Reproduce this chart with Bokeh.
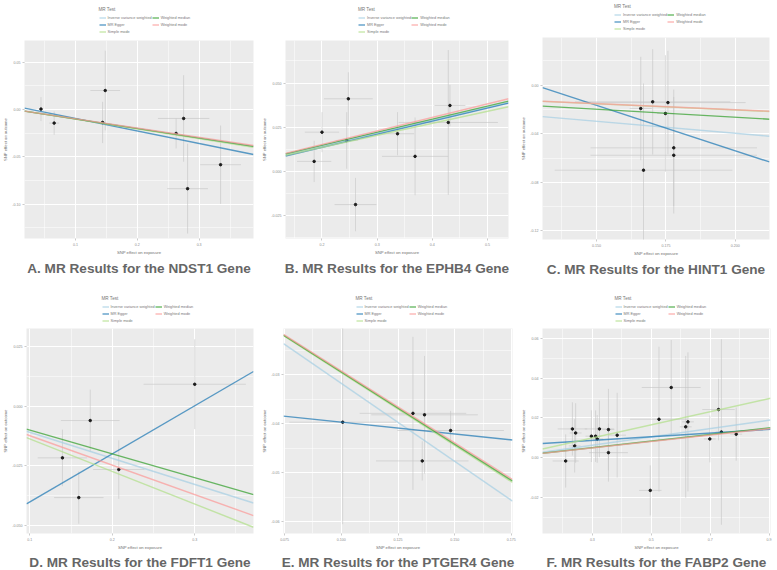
import numpy as np
from bokeh.plotting import figure
from bokeh.layouts import column, row
from bokeh.models import FixedTicker, Legend, LegendItem, Range1d, Title
from bokeh.embed import file_html
from bokeh.resources import INLINE

methods = ["Inverse variance weighted", "MR Egger", "Simple mode", "Weighted median", "Weighted mode"]
method_colors = ["#a6cee3", "#1f78b4", "#b2df8a", "#33a02c", "#fb9a99"]

# ---------------- Panel A : NDST1 ----------------
a_exp = [0.044, 0.0653, 0.148, 0.1437, 0.2627, 0.2749, 0.3347, 0.2813]
a_out = [0.0004, -0.0144, 0.0200, -0.0137, -0.0253, -0.0095, -0.0583, -0.0836]
a_se_exp = [0.003, 0.008, 0.024, 0.004, 0.004, 0.0416, 0.033, 0.033]
a_se_out = [0.0126, 0.0123, 0.042, 0.0218, 0.0158, 0.0457, 0.0414, 0.0474]
a_intercept = [0, 0.0037, 0, 0, 0]
a_slope = [-0.100, -0.132, -0.103, -0.1005, -0.098]
a_xticks = [0.1, 0.2, 0.3]
a_xlabels = ["0.1", "0.2", "0.3"]
a_yticks = [-0.10, -0.05, 0.0, 0.05]
a_ylabels = ["-0.10", "-0.05", "0.00", "0.05"]

# ---------------- Panel B : EPHB4 ----------------
b_exp = [0.1858, 0.2, 0.2478, 0.2448, 0.2608, 0.3369, 0.3687, 0.4319, 0.4289]
b_out = [0.00565, 0.0222, 0.0411, 0.0175, -0.0188, 0.0213, 0.0085, 0.0373, 0.0277]
b_se_exp = [0.031, 0.031, 0.0442, 0.02, 0.038, 0.03, 0.06, 0.028, 0.09]
b_se_out = [0.0117, 0.0113, 0.015, 0.016, 0.0151, 0.0122, 0.022, 0.0117, 0.041]
b_intercept = [0, -0.0012, 0, 0, 0]
b_slope = [0.0725, 0.074, 0.068, 0.0739, 0.0764]
b_xticks = [0.2, 0.3, 0.4, 0.5]
b_xlabels = ["0.2", "0.3", "0.4", "0.5"]
b_yticks = [-0.025, 0.0, 0.025, 0.05]
b_ylabels = ["-0.025", "0.000", "0.025", "0.050"]

# ---------------- Panel C : HINT1 ----------------
c_exp = [0.1659, 0.1702, 0.1757, 0.1748, 0.1778, 0.1778, 0.1669]
c_out = [-0.0192, -0.0137, -0.0143, -0.0233, -0.0516, -0.0577, -0.0700]
c_se_exp = [0.004, 0.028, 0.028, 0.003, 0.030, 0.030, 0.032]
c_se_out = [0.0426, 0.0434, 0.0426, 0.048, 0.048, 0.048, 0.0714]
c_intercept = [0, 0.0958, 0, 0, 0]
c_slope = [-0.198, -0.749, -0.102, -0.132, -0.101]
c_xticks = [0.15, 0.175, 0.2]
c_xlabels = ["0.150", "0.175", "0.200"]
c_yticks = [-0.12, -0.08, -0.04, 0.0]
c_ylabels = ["-0.12", "-0.08", "-0.04", "0.00"]

# ---------------- Panel D : FDFT1 ----------------
d_exp = [0.1396, 0.1733, 0.1594, 0.2079, 0.3]
d_out = [-0.0217, -0.006, -0.0384, -0.0266, 0.00925]
d_se_exp = [0.030, 0.0356, 0.030, 0.031, 0.062]
d_se_out = [0.0119, 0.013, 0.011, 0.0123, 0.0189]
d_intercept = [0, -0.0605, 0, 0, 0]
d_slope = [-0.1095, 0.2023, -0.137, -0.100, -0.1238]
d_xticks = [0.1, 0.2, 0.3]
d_xlabels = ["0.1", "0.2", "0.3"]
d_yticks = [-0.05, -0.025, 0.0, 0.025]
d_ylabels = ["-0.050", "-0.025", "0.000", "0.025"]

# ---------------- Panel E : PTGER4 ----------------
e_exp = [0.1006, 0.1316, 0.1367, 0.1482, 0.1357]
e_out = [-0.0397, -0.0379, -0.0382, -0.0414, -0.0476]
e_se_exp = [0.0235, 0.0235, 0.0235, 0.0235, 0.0204]
e_se_out = [0.0208, 0.0156, 0.012, 0.004, 0.004]
e_intercept = [0, -0.0349, 0, 0, 0]
e_slope = [-0.318, -0.048, -0.2962, -0.2945, -0.2928]
e_xticks = [0.075, 0.1, 0.125, 0.15, 0.175]
e_xlabels = ["0.075", "0.100", "0.125", "0.150", "0.175"]
e_yticks = [-0.06, -0.05, -0.04, -0.03]
e_ylabels = ["-0.06", "-0.05", "-0.04", "-0.03"]

# ---------------- Panel F : FABP2 ----------------
f_exp = [0.2093, 0.2322, 0.2399, 0.2432, 0.2967, 0.3109, 0.3164, 0.324, 0.3546, 0.3546,
         0.3842, 0.4967, 0.5262, 0.5678, 0.617, 0.6246, 0.6989, 0.7284, 0.7383, 0.7885]
f_out = [-0.0017, 0.01445, 0.0059, 0.0124, 0.0108, 0.0108, 0.0094, 0.01445, 0.0141, 0.0025,
         0.0113, -0.0165, 0.0193, 0.0353, 0.0155, 0.018, 0.0094, 0.0242, 0.0129, 0.0118]
f_se_exp = [0.044, 0.05, 0.02, 0.02, 0.02, 0.02, 0.02, 0.05, 0.02, 0.066,
            0.03, 0.038, 0.098, 0.10, 0.02, 0.02, 0.02, 0.055, 0.02, 0.02]
f_se_out = [0.0134, 0.0134, 0.0134, 0.015, 0.013, 0.013, 0.012, 0.0143, 0.0205, 0.0146,
            0.0213, 0.0126, 0.0365, 0.0239, 0.0357, 0.035, 0.0118, 0.0155, 0.0467, 0.0134]
f_intercept = [0, 0.0059, 0, 0, 0]
f_slope = [0.0209, 0.00918, 0.033, 0.0166, 0.0162]
f_xticks = [0.3, 0.5, 0.7, 0.9]
f_xlabels = ["0.3", "0.5", "0.7", "0.9"]
f_yticks = [-0.02, 0.0, 0.02, 0.04, 0.06]
f_ylabels = ["-0.02", "0.00", "0.02", "0.04", "0.06"]

captions = [
    "A. MR Results for the NDST1 Gene",
    "B. MR Results for the EPHB4 Gene",
    "C. MR Results for the HINT1 Gene",
    "D. MR Results for the FDFT1 Gene",
    "E. MR Results for the PTGER4 Gene",
    "F. MR Results for the FABP2 Gene",
]

# layout config: (x_range, y_range, borders L, R, T, B)
layout_cfg = [
    ((0.0173, 0.388), (-0.1362, 0.0728), (20, 6, 40, 47)),
    ((0.1339, 0.538), (-0.038, 0.0741), (21, 10, 40, 47)),
    ((0.1305, 0.2123), (-0.1271, 0.0393), (17, 8, 37, 46)),
    ((0.096, 0.3713), (-0.0535, 0.0327), (22, 6, 43, 37)),
    ((0.0745, 0.1755), (-0.0624, -0.0206), (16, 6, 43, 37)),
    ((0.1306, 0.905), (-0.0382, 0.065), (17, 7, 43, 37)),
]

panels_data = [
    (a_exp, a_out, a_se_exp, a_se_out, a_intercept, a_slope, a_xticks, a_xlabels, a_yticks, a_ylabels),
    (b_exp, b_out, b_se_exp, b_se_out, b_intercept, b_slope, b_xticks, b_xlabels, b_yticks, b_ylabels),
    (c_exp, c_out, c_se_exp, c_se_out, c_intercept, c_slope, c_xticks, c_xlabels, c_yticks, c_ylabels),
    (d_exp, d_out, d_se_exp, d_se_out, d_intercept, d_slope, d_xticks, d_xlabels, d_yticks, d_ylabels),
    (e_exp, e_out, e_se_exp, e_se_out, e_intercept, e_slope, e_xticks, e_xlabels, e_yticks, e_ylabels),
    (f_exp, f_out, f_se_exp, f_se_out, f_intercept, f_slope, f_xticks, f_xlabels, f_yticks, f_ylabels),
]

FIG_W, FIG_H = 259, 285
LINE_W, LINE_ALPHA = 1.4, 0.72


def minors(ticks):
    step = ticks[1] - ticks[0]
    return [t - step / 2 for t in ticks] + [ticks[-1] + step / 2]


def make_legend_fig(L, R, T, top_row):
    lf = figure(width=FIG_W, height=T, output_backend="svg", toolbar_location=None,
                x_range=Range1d(0, 1), y_range=Range1d(0, 1), title=None,
                min_border_left=0, min_border_right=0, min_border_top=0, min_border_bottom=0)
    lf.axis.visible = False
    lf.grid.visible = False
    lf.outline_line_color = None
    lf.background_fill_color = "white"
    lf.border_fill_color = "white"
    items = []
    for m, c in zip(methods, method_colors):
        # key-only renderer (no visible data), used to draw the legend key
        r = lf.line(x=np.array([np.nan]), y=np.array([np.nan]), line_color=c,
                    line_width=LINE_W, line_alpha=LINE_ALPHA)
        items.append(LegendItem(label=m, renderers=[r]))
    frame_center = L + (FIG_W - L - R) / 2
    leg = Legend(items=items, orientation="vertical", nrows=3,
                 location=(frame_center - 62, 5 if top_row else 4),
                 title="MR Test", title_text_font_size="4.6px", title_text_color="#777777",
                 title_text_font_style="normal", title_text_font="Liberation Sans", title_standoff=2,
                 label_text_font="Liberation Sans", label_text_font_size="3.8px",
                 label_text_color="#7a7a7a", label_standoff=2, label_height=7,
                 glyph_width=7, glyph_height=7, spacing=0, padding=1, margin=0,
                 border_line_color=None, background_fill_color="white")
    lf.add_layout(leg)
    return lf


def make_panel(data, cfg, caption, top_row):
    bx, by, sx, sy, icpt, slope, xt, xl, yt, yl = data
    xr, yr, (L, R, T, B) = cfg
    p = figure(width=FIG_W, height=FIG_H - T, output_backend="svg", toolbar_location=None,
               x_range=Range1d(*xr), y_range=Range1d(*yr), title=None,
               min_border_left=L, min_border_right=R, min_border_top=0, min_border_bottom=B)
    p.background_fill_color = "#EBEBEB"
    p.border_fill_color = "white"
    p.outline_line_color = None

    p.xaxis.ticker = FixedTicker(ticks=xt, minor_ticks=minors(xt))
    p.yaxis.ticker = FixedTicker(ticks=yt, minor_ticks=minors(yt))
    p.xaxis.major_label_overrides = {t: s for t, s in zip(xt, xl)}
    p.yaxis.major_label_overrides = {t: s for t, s in zip(yt, yl)}
    p.xaxis.axis_label = "SNP effect on exposure"
    p.yaxis.axis_label = "SNP effect on outcome"
    for ax in (p.xaxis[0], p.yaxis[0]):
        ax.axis_line_color = None
        ax.major_tick_line_color = "#a8a8a8"
        ax.major_tick_line_width = 0.6
        ax.major_tick_out = 2
        ax.major_tick_in = 0
        ax.minor_tick_line_color = None
        ax.major_label_text_font = "Liberation Sans"
        ax.major_label_text_font_size = "3.6px"
        ax.major_label_text_color = "#8c8c8c"
        ax.major_label_standoff = 0
        ax.axis_label_text_font = "Liberation Sans"
        ax.axis_label_text_font_size = "4.2px"
        ax.axis_label_text_color = "#707070"
        ax.axis_label_text_font_style = "normal"
        ax.axis_label_standoff = 1

    p.grid.grid_line_color = "white"
    p.grid.grid_line_width = 1
    p.grid.minor_grid_line_color = "white"
    p.grid.minor_grid_line_width = 0.5

    # error bars
    p.segment(x0=[x - s for x, s in zip(bx, sx)], y0=by, x1=[x + s for x, s in zip(bx, sx)], y1=by,
              line_color="#c4c4c4", line_width=0.6)
    p.segment(x0=bx, y0=[y - s for y, s in zip(by, sy)], x1=bx, y1=[y + s for y, s in zip(by, sy)],
              line_color="#c4c4c4", line_width=0.6)
    # points
    p.scatter(bx, by, size=2.5, color="#1a1a1a")

    # MR regression lines (intercept + slope, drawn across the x range)
    x0, x1 = xr
    for m, c, a, b in zip(methods, method_colors, icpt, slope):
        p.line(x=[x0, x1], y=[a + b * x0, a + b * x1], line_color=c,
               line_width=LINE_W, line_alpha=LINE_ALPHA)

    cap = Title(text=caption, align="center", text_font="Liberation Sans", text_font_size="13.6px",
                text_font_style="bold", text_color="#666666", standoff=2 if top_row else 0)
    p.add_layout(cap, "below")

    return column(make_legend_fig(L, R, T, top_row), p, spacing=0)


cells = [make_panel(d, c, cap, i < 3) for i, (d, c, cap) in enumerate(zip(panels_data, layout_cfg, captions))]
layout = column(row(*cells[0:3], spacing=0), row(*cells[3:6], spacing=0), spacing=0)

open("out.html", "w").write(file_html(layout, INLINE))
